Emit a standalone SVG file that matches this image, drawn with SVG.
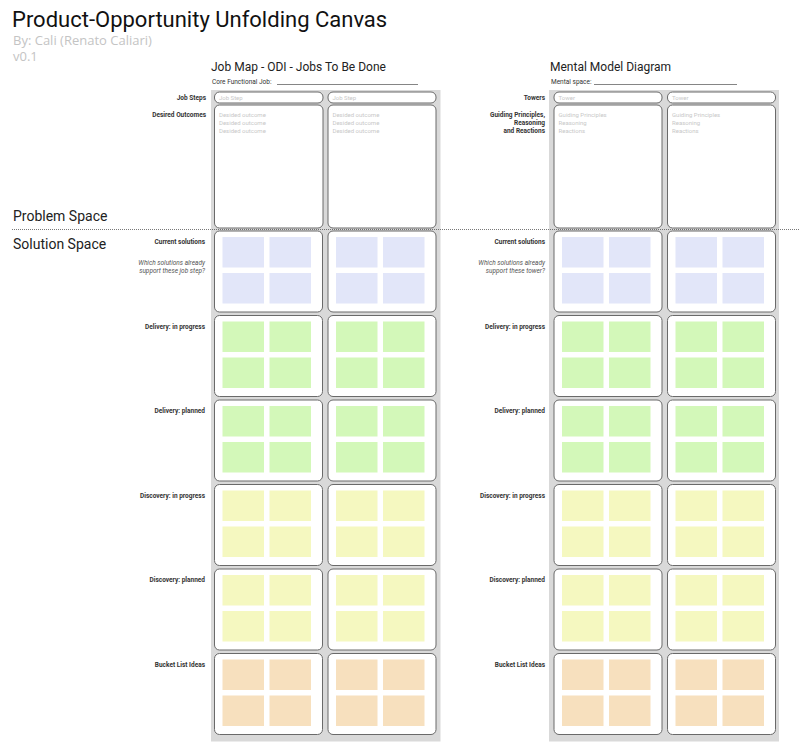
<svg xmlns="http://www.w3.org/2000/svg" width="800" height="752" viewBox="0 0 800 752">
<style>
.bg{fill:#d9d9d9}
.box{fill:#fff;stroke:#6a6a6a;stroke-width:1}
.lbl{font-family:Roboto,"Liberation Sans",sans-serif;font-size:6.5px;font-weight:bold;fill:#333;text-anchor:end}
.it{font-family:Roboto,"Liberation Sans",sans-serif;font-size:6.5px;font-style:italic;fill:#555;text-anchor:end}
.ph{font-family:Roboto,"Liberation Sans",sans-serif;font-size:6px;fill:#c8c8c8}
.h2{font-family:Roboto,"Liberation Sans",sans-serif;font-size:12px;fill:#222}
.sm{font-family:Roboto,"Liberation Sans",sans-serif;font-size:6.5px;fill:#333}
.sp{font-family:Roboto,"Liberation Sans",sans-serif;font-size:14px;fill:#222}
.by{font-family:"Open Sans","Liberation Sans",sans-serif;font-size:13px;fill:#c4c4c4}
.b{fill:#e2e6f9}.g{fill:#d3f8b9}.y{fill:#f5f8c0}.o{fill:#f7e0be}
</style>
<defs>
<g id="s4b"><rect x="8" y="6" width="41.5" height="30.5" class="b"/><rect x="55" y="6" width="41.5" height="30.5" class="b"/><rect x="8" y="42" width="41.5" height="30.5" class="b"/><rect x="55" y="42" width="41.5" height="30.5" class="b"/></g>
<g id="s4g"><rect x="8" y="6" width="41.5" height="30.5" class="g"/><rect x="55" y="6" width="41.5" height="30.5" class="g"/><rect x="8" y="42" width="41.5" height="30.5" class="g"/><rect x="55" y="42" width="41.5" height="30.5" class="g"/></g>
<g id="s4y"><rect x="8" y="6" width="41.5" height="30.5" class="y"/><rect x="55" y="6" width="41.5" height="30.5" class="y"/><rect x="8" y="42" width="41.5" height="30.5" class="y"/><rect x="55" y="42" width="41.5" height="30.5" class="y"/></g>
<g id="s4o"><rect x="8" y="6" width="41.5" height="30.5" class="o"/><rect x="55" y="6" width="41.5" height="30.5" class="o"/><rect x="8" y="42" width="41.5" height="30.5" class="o"/><rect x="55" y="42" width="41.5" height="30.5" class="o"/></g>
<rect id="cell" width="108" height="81" rx="5" class="box"/>
</defs>
<rect width="800" height="752" fill="#fff"/>

<g id="header">
<text x="12" y="27" font-family="Roboto,'Liberation Sans',sans-serif" font-size="22" fill="#111">Product-Opportunity Unfolding Canvas</text>
<text x="13" y="44.5" class="by">By: Cali (Renato Caliari)</text>
<text x="13" y="61" class="by">v0.1</text>
</g>

<g id="backgrounds">
<rect x="211" y="90" width="229.5" height="651.5" class="bg"/>
<rect x="549" y="90" width="230" height="651.5" class="bg"/>
</g>

<g id="jobmap-header">
<text x="211" y="71" class="h2">Job Map - ODI - Jobs To Be Done</text>
<text x="212" y="84" class="sm">Core Functional Job:</text>
<line x1="277" y1="84.5" x2="418" y2="84.5" stroke="#333" stroke-width="0.6"/>
</g>
<g id="mental-header">
<text x="550" y="71" class="h2">Mental Model Diagram</text>
<text x="551" y="84" class="sm">Mental space:</text>
<line x1="594" y1="84.5" x2="737" y2="84.5" stroke="#333" stroke-width="0.6"/>
</g>

<g id="problem-labels">
<text x="206" y="100" class="lbl">Job Steps</text>
<text x="206" y="117" class="lbl">Desired Outcomes</text>
<text x="545" y="100" class="lbl">Towers</text>
<text x="545" y="117" class="lbl">Guiding Principles,</text>
<text x="545" y="125" class="lbl">Reasoning</text>
<text x="545" y="133" class="lbl">and Reactions</text>
</g>

<g id="job-steps">
<rect x="214.5" y="92" width="108.5" height="11" rx="5" class="box"/>
<text x="219" y="99.5" class="ph">Job Step</text>
<rect x="328" y="92" width="108" height="11" rx="5" class="box"/>
<text x="332.5" y="99.5" class="ph">Job Step</text>
</g>
<g id="desired-outcomes">
<rect x="214.5" y="105" width="108.5" height="123" rx="5" class="box"/>
<text x="219" y="117" class="ph">Desided outcome</text>
<text x="219" y="125" class="ph">Desided outcome</text>
<text x="219" y="133" class="ph">Desided outcome</text>
<rect x="328" y="105" width="108" height="123" rx="5" class="box"/>
<text x="332.5" y="117" class="ph">Desided outcome</text>
<text x="332.5" y="125" class="ph">Desided outcome</text>
<text x="332.5" y="133" class="ph">Desided outcome</text>
</g>
<g id="towers">
<rect x="554" y="92" width="108" height="11" rx="5" class="box"/>
<text x="558.5" y="99.5" class="ph">Tower</text>
<rect x="667.5" y="92" width="108" height="11" rx="5" class="box"/>
<text x="672" y="99.5" class="ph">Tower</text>
</g>
<g id="guiding-principles">
<rect x="554" y="105" width="108" height="123" rx="5" class="box"/>
<text x="558.5" y="117" class="ph">Guiding Principles</text>
<text x="558.5" y="125" class="ph">Reasoning</text>
<text x="558.5" y="133" class="ph">Reactions</text>
<rect x="667.5" y="105" width="108" height="123" rx="5" class="box"/>
<text x="672" y="117" class="ph">Guiding Principles</text>
<text x="672" y="125" class="ph">Reasoning</text>
<text x="672" y="133" class="ph">Reactions</text>
</g>

<g id="space-divider">
<text x="13" y="221" class="sp">Problem Space</text>
<line x1="12" y1="229.5" x2="800" y2="229.5" stroke="#555" stroke-width="0.8" stroke-dasharray="1,1"/>
<text x="13" y="248.5" class="sp">Solution Space</text>
</g>

<g id="row-labels">
<text x="205" y="244" class="lbl">Current solutions</text>
<text x="205" y="265" class="it">Which solutions already</text>
<text x="205" y="273" class="it">support these job step?</text>
<text x="205" y="328.5" class="lbl">Delivery: in progress</text>
<text x="205" y="413" class="lbl">Delivery: planned</text>
<text x="205" y="497.5" class="lbl">Discovery: in progress</text>
<text x="205" y="582" class="lbl">Discovery: planned</text>
<text x="205" y="666.5" class="lbl">Bucket List Ideas</text>
<text x="545" y="244" class="lbl">Current solutions</text>
<text x="545" y="265" class="it">Which solutions already</text>
<text x="545" y="273" class="it">support these tower?</text>
<text x="545" y="328.5" class="lbl">Delivery: in progress</text>
<text x="545" y="413" class="lbl">Delivery: planned</text>
<text x="545" y="497.5" class="lbl">Discovery: in progress</text>
<text x="545" y="582" class="lbl">Discovery: planned</text>
<text x="545" y="666.5" class="lbl">Bucket List Ideas</text>
</g>

<g id="current-solutions">
<g transform="translate(214.5,231)"><use href="#cell"/><use href="#s4b"/></g>
<g transform="translate(328,231)"><use href="#cell"/><use href="#s4b"/></g>
<g transform="translate(554,231)"><use href="#cell"/><use href="#s4b"/></g>
<g transform="translate(667.5,231)"><use href="#cell"/><use href="#s4b"/></g>
</g>
<g id="delivery-in-progress">
<g transform="translate(214.5,315.5)"><use href="#cell"/><use href="#s4g"/></g>
<g transform="translate(328,315.5)"><use href="#cell"/><use href="#s4g"/></g>
<g transform="translate(554,315.5)"><use href="#cell"/><use href="#s4g"/></g>
<g transform="translate(667.5,315.5)"><use href="#cell"/><use href="#s4g"/></g>
</g>
<g id="delivery-planned">
<g transform="translate(214.5,400)"><use href="#cell"/><use href="#s4g"/></g>
<g transform="translate(328,400)"><use href="#cell"/><use href="#s4g"/></g>
<g transform="translate(554,400)"><use href="#cell"/><use href="#s4g"/></g>
<g transform="translate(667.5,400)"><use href="#cell"/><use href="#s4g"/></g>
</g>
<g id="discovery-in-progress">
<g transform="translate(214.5,484.5)"><use href="#cell"/><use href="#s4y"/></g>
<g transform="translate(328,484.5)"><use href="#cell"/><use href="#s4y"/></g>
<g transform="translate(554,484.5)"><use href="#cell"/><use href="#s4y"/></g>
<g transform="translate(667.5,484.5)"><use href="#cell"/><use href="#s4y"/></g>
</g>
<g id="discovery-planned">
<g transform="translate(214.5,569)"><use href="#cell"/><use href="#s4y"/></g>
<g transform="translate(328,569)"><use href="#cell"/><use href="#s4y"/></g>
<g transform="translate(554,569)"><use href="#cell"/><use href="#s4y"/></g>
<g transform="translate(667.5,569)"><use href="#cell"/><use href="#s4y"/></g>
</g>
<g id="bucket-list-ideas">
<g transform="translate(214.5,653.5)"><use href="#cell"/><use href="#s4o"/></g>
<g transform="translate(328,653.5)"><use href="#cell"/><use href="#s4o"/></g>
<g transform="translate(554,653.5)"><use href="#cell"/><use href="#s4o"/></g>
<g transform="translate(667.5,653.5)"><use href="#cell"/><use href="#s4o"/></g>
</g>
<g id="connectors"/>
</svg>
